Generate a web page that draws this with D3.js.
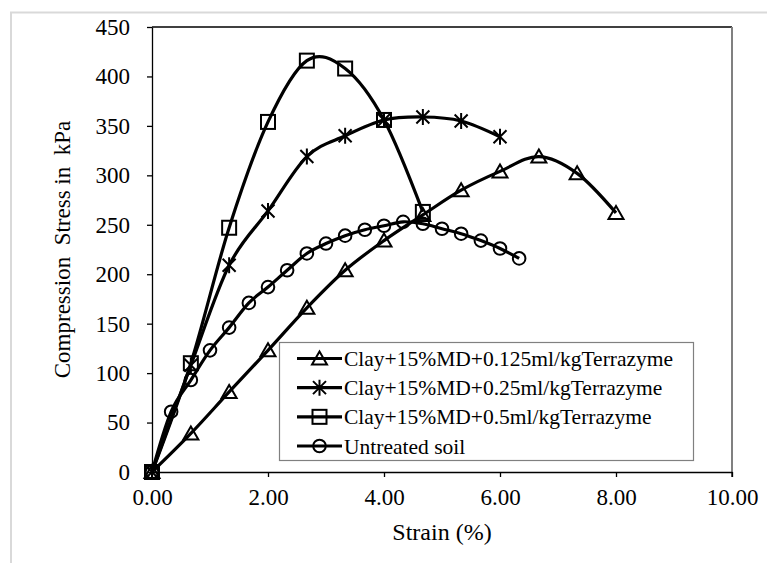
<!DOCTYPE html>
<html>
<head>
<meta charset="utf-8">
<script src="https://cdn.jsdelivr.net/npm/d3@7"></script>
<style>
  html, body { margin: 0; padding: 0; background: #fff; }
  svg { display: block; }
</style>
</head>
<body>
<svg id="chart" width="767" height="563"></svg>
<script>
// ---------- data ----------
const seriesNames = [
  "Clay+15%MD+0.125ml/kgTerrazyme",
  "Clay+15%MD+0.25ml/kgTerrazyme",
  "Clay+15%MD+0.5ml/kgTerrazyme",
  "Untreated soil"
];
const markerTypes = ["triangle", "star", "square", "circle"];

const strain0125 = [0, 0.67, 1.33, 2.00, 2.67, 3.33, 4.00, 4.67, 5.33, 6.00, 6.67, 7.33, 8.00];
const stress0125 = [0, 39, 81, 123, 166, 204, 234, 260, 285, 304, 319, 302, 262];

const strain025 = [0, 0.67, 1.33, 2.00, 2.67, 3.33, 4.00, 4.67, 5.33, 6.00];
const stress025 = [0, 108, 209, 264, 319, 340, 356, 359, 355, 339];

const strain05 = [0, 0.67, 1.33, 2.00, 2.67, 3.33, 4.00, 4.67];
const stress05 = [0, 110, 247, 354, 416, 408, 356, 263];

const strainUnt = [0, 0.33, 0.67, 1.00, 1.33, 1.67, 2.00, 2.33, 2.67, 3.00, 3.33, 3.67, 4.00, 4.33, 4.67, 5.00, 5.33, 5.67, 6.00, 6.33];
const stressUnt = [0, 61, 93, 123, 146, 171, 187, 204, 221, 231, 239, 245, 249, 253, 251, 246, 241, 234, 226, 216];

const xTicks = [0, 2, 4, 6, 8, 10];
const yTicks = [0, 50, 100, 150, 200, 250, 300, 350, 400, 450];
const xTitle = "Strain (%)";
const yTitle = "Compression\u00A0 Stress in\u00A0 kPa";

// ---------- layout ----------
const FONT = '"Liberation Serif", "Times New Roman", serif';
const svg = d3.select("#chart");
const plot = { left: 152, right: 732, top: 27, bottom: 472 };

const x = d3.scaleLinear().domain([0, 10]).range([plot.left, plot.right]);
const y = d3.scaleLinear().domain([0, 450]).range([plot.bottom, plot.top]);

// outer chart frame
svg.append("rect")
  .attr("x", 11).attr("y", 12.5)
  .attr("width", 790).attr("height", 600)
  .attr("fill", "none").attr("stroke", "#d9d9d9").attr("stroke-width", 2);

// plot border (top & right)
svg.append("line")
  .attr("x1", plot.left).attr("x2", plot.right)
  .attr("y1", plot.top).attr("y2", plot.top)
  .attr("stroke", "#000").attr("stroke-width", 1.5);
svg.append("line")
  .attr("x1", plot.right).attr("x2", plot.right)
  .attr("y1", plot.top).attr("y2", plot.bottom)
  .attr("stroke", "#808080").attr("stroke-width", 2);

// axes
const xAxis = svg.append("g")
  .attr("transform", `translate(0,${plot.bottom})`)
  .call(d3.axisBottom(x).tickValues(xTicks).tickFormat(d3.format(".2f"))
        .tickSize(5).tickSizeOuter(0).tickPadding(12));
const yAxis = svg.append("g")
  .attr("transform", `translate(${plot.left},0)`)
  .call(d3.axisLeft(y).tickValues(yTicks).tickFormat(d3.format("d"))
        .tickSize(5).tickSizeOuter(0).tickPadding(17));
[xAxis, yAxis].forEach(a => {
  a.attr("font-family", null).attr("font-size", null);
  a.select(".domain").attr("stroke", "#000").attr("stroke-width", 1.3);
  a.selectAll(".tick line").attr("stroke", "#000").attr("stroke-width", 1.3);
  a.selectAll(".tick text")
    .style("font-family", FONT)
    .style("font-size", "23px").attr("fill", "#000");
});
// x-axis right end tick (plot border meets axis)
svg.append("line")
  .attr("x1", plot.right).attr("x2", plot.right)
  .attr("y1", plot.bottom).attr("y2", plot.bottom + 5)
  .attr("stroke", "#000").attr("stroke-width", 1.3);

// axis titles
svg.append("text")
  .attr("x", (plot.left + plot.right) / 2).attr("y", 540)
  .attr("text-anchor", "middle")
  .style("font-family", FONT).style("font-size", "24px")
  .text(xTitle);
svg.append("text")
  .attr("transform", `translate(70,${(plot.top + plot.bottom) / 2}) rotate(-90)`)
  .attr("text-anchor", "middle")
  .style("font-family", FONT).style("font-size", "23px")
  .text(yTitle);

// ---------- series ----------
const series = [
  { name: seriesNames[0], marker: markerTypes[0], pts: strain0125.map((s, i) => [s, stress0125[i]]) },
  { name: seriesNames[1], marker: markerTypes[1], pts: strain025.map((s, i) => [s, stress025[i]]) },
  { name: seriesNames[2], marker: markerTypes[2], pts: strain05.map((s, i) => [s, stress05[i]]) },
  { name: seriesNames[3], marker: markerTypes[3], pts: strainUnt.map((s, i) => [s, stressUnt[i]]) }
];

const line = d3.line()
  .x(d => x(d[0])).y(d => y(d[1]))
  .curve(d3.curveCardinal.tension(0));

function drawMarker(g, type, cx, cy) {
  const m = g.append("g").attr("transform", `translate(${cx},${cy})`)
    .attr("fill", "none").attr("stroke", "#000").attr("stroke-width", 2);
  if (type === "square") {
    m.append("rect").attr("x", -7).attr("y", -7).attr("width", 14).attr("height", 14);
  } else if (type === "triangle") {
    m.append("path").attr("d", "M0,-7 L7.5,6 L-7.5,6 Z");
  } else if (type === "circle") {
    m.append("circle").attr("r", 6.3);
  } else if (type === "star") {
    m.append("path").attr("d", "M-6.5,-6.5 L6.5,6.5 M-6.5,6.5 L6.5,-6.5 M0,-8 L0,8");
  }
}

const seriesG = svg.append("g");
series.forEach(s => {
  seriesG.append("path")
    .attr("d", line(s.pts))
    .attr("fill", "none").attr("stroke", "#000").attr("stroke-width", 3.2)
    .attr("stroke-linejoin", "round");
});
series.forEach(s => {
  s.pts.forEach(p => drawMarker(seriesG, s.marker, x(p[0]), y(p[1])));
});

// ---------- legend ----------
const legend = svg.append("g");
legend.append("rect")
  .attr("x", 279.5).attr("y", 342.5).attr("width", 414).attr("height", 118)
  .attr("fill", "#fff").attr("stroke", "#808080").attr("stroke-width", 1.2);
const rowY = d3.scaleLinear().domain([0, 3]).range([358.5, 446]);
series.forEach((s, i) => {
  const yy = rowY(i);
  legend.append("line")
    .attr("x1", 297).attr("x2", 342).attr("y1", yy).attr("y2", yy)
    .attr("stroke", "#000").attr("stroke-width", 3.2);
  drawMarker(legend, s.marker, 319.5, yy);
  legend.append("text")
    .attr("x", 344).attr("y", yy).attr("dy", "0.35em")
    .style("font-family", FONT).style("font-size", "21.5px")
    .text(s.name);
});
</script>
</body>
</html>
